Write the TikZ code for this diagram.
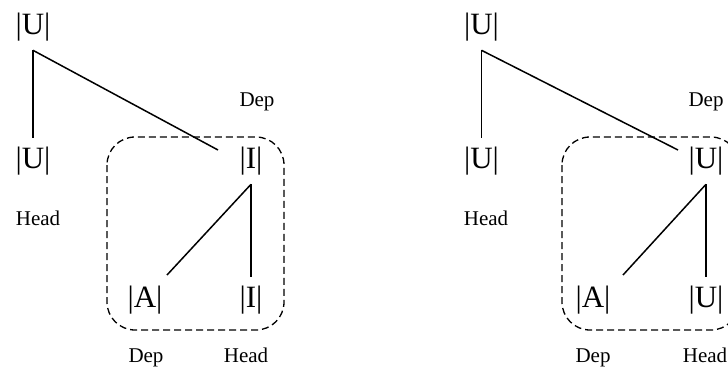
\documentclass[tikz,border=0pt]{standalone}
\usepackage{fontspec}
\setmainfont{Liberation Serif}
\usetikzlibrary{calc}

\begin{document}
\begin{tikzpicture}[
  x=1pt, y=-1pt,
  cat/.style={font=\fontsize{31}{37}\selectfont, inner xsep=0pt, inner ysep=9pt},
  role/.style={font=\fontsize{21}{25}\selectfont, inner sep=0pt, anchor=base},
  branch/.style={line width=1.5pt},
  group/.style={line width=1.3pt, dash pattern=on 7pt off 4pt, rounded corners=28pt},
]
\useasboundingbox (0,0) rectangle (728,367);
\clip (0,0) rectangle (728,367);

% -------------------------------------------------------------------------
% Left tree: |U| over |U| and the |I| group.
% -------------------------------------------------------------------------
\begin{scope}
  \node[cat] (uTop) at (33,27) {|U|};
  \node[cat] (uLeft) at (33,161) {|U|};
  \node[cat] (iTop) at (251,161) {|I|};
  \node[cat] (aBot) at (145,300) {|A|};
  \node[cat] (iBot) at (251,300) {|I|};

  \node[role] (depTop) at (257,106) {Dep};
  \node[role] (headLeft) at (38,225) {Head};
  \node[role] (depBot) at (146,362) {Dep};
  \node[role] (headBot) at (246,362) {Head};

  \coordinate (iIn) at ([shift={(-33,-11)}]iTop.center);
  \coordinate (aIn) at ([shift={(22,-25)}]aBot.center);
  \draw[branch] (uTop.south) -- (uLeft.north);
  \draw[branch] (uTop.south) -- (iIn);
  \draw[branch] (iTop.south) -- (iBot.north);
  \draw[branch] (iTop.south) -- (aIn);

  \draw[group] (107,137) rectangle (284,330);
\end{scope}

% -------------------------------------------------------------------------
% Right tree: same shape, |U| heads the group.
% -------------------------------------------------------------------------
\begin{scope}[shift={(448,0)}]
  \node[cat] (uTopR) at (33.5,27) {|U|};
  \node[cat] (uLeftR) at (33.5,161) {|U|};
  \node[cat] (uMidR) at (258,161) {|U|};
  \node[cat] (aBotR) at (145,300) {|A|};
  \node[cat] (uBotR) at (258,300) {|U|};

  \node[role] (depTopR) at (258,106) {Dep};
  \node[role] (headLeftR) at (38,225) {Head};
  \node[role] (depBotR) at (145,362) {Dep};
  \node[role] (headBotR) at (257,362) {Head};

  \coordinate (uIn) at ([shift={(-28,-11)}]uMidR.center);
  \coordinate (aInR) at ([shift={(30,-25)}]aBotR.center);
  \draw[branch] (uTopR.south) -- (uLeftR.north);
  \draw[branch] (uTopR.south) -- (uIn);
  \draw[branch] (uMidR.south) -- (uBotR.north);
  \draw[branch] (uMidR.south) -- (aInR);

  \draw[group] (114,137) rectangle (291,330);
\end{scope}

\end{tikzpicture}
\end{document}
